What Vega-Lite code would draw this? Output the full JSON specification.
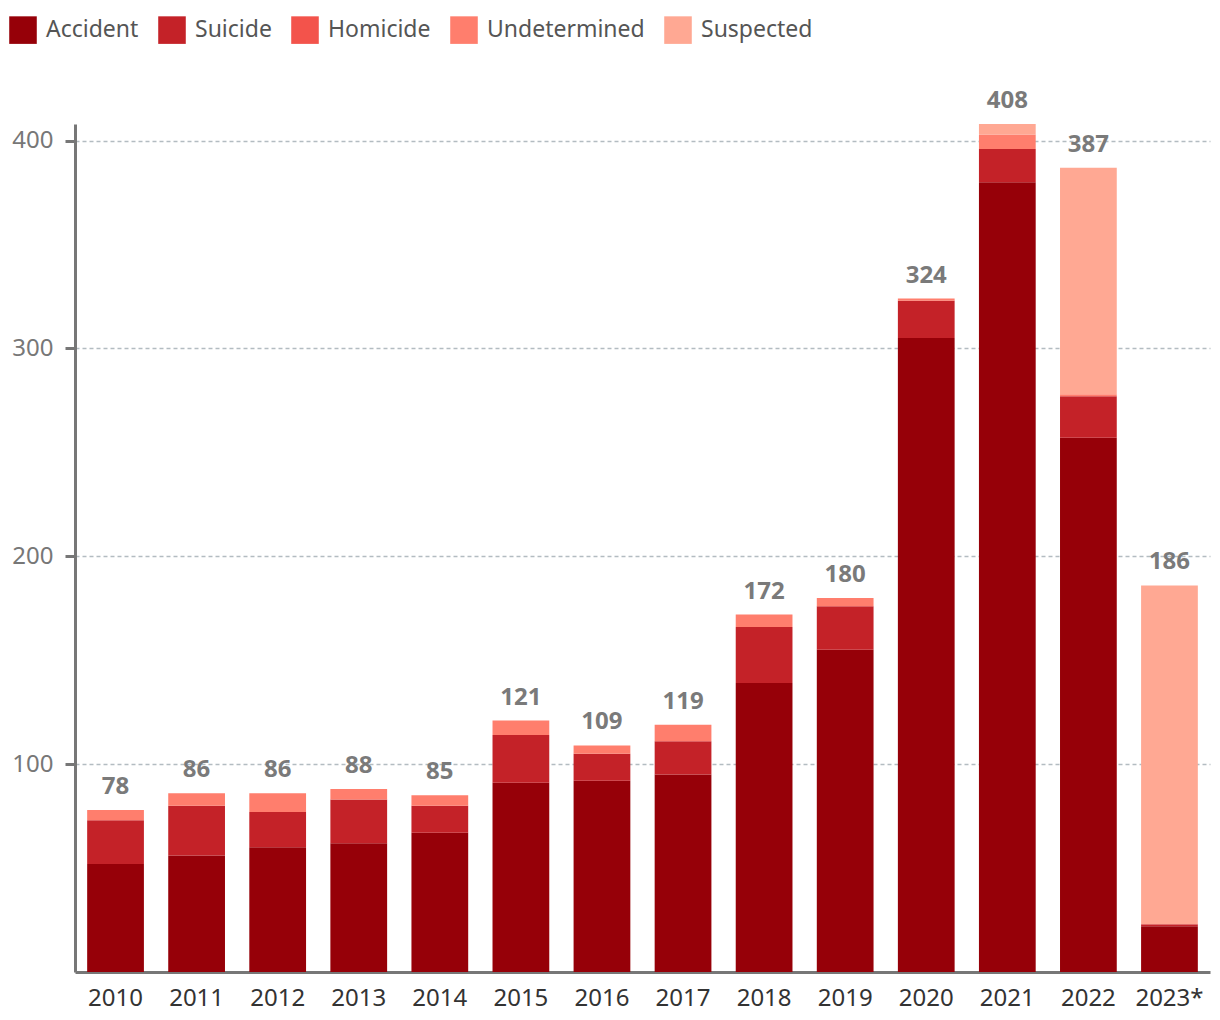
{
  "$schema": "https://vega.github.io/schema/vega-lite/v6.json",
  "autosize": "none",
  "width": 1135,
  "height": 848,
  "padding": {"left": 75, "top": 124, "right": 10, "bottom": 48},
  "background": "white",
  "config": {"view": {"stroke": null}, "font": "Noto Sans"},
  "data": {"values": [
    {"year": "2010", "type": "Accident", "value": 52},
    {"year": "2010", "type": "Suicide", "value": 21},
    {"year": "2010", "type": "Undetermined", "value": 5},
    {"year": "2011", "type": "Accident", "value": 56},
    {"year": "2011", "type": "Suicide", "value": 24},
    {"year": "2011", "type": "Undetermined", "value": 6},
    {"year": "2012", "type": "Accident", "value": 60},
    {"year": "2012", "type": "Suicide", "value": 17},
    {"year": "2012", "type": "Undetermined", "value": 9},
    {"year": "2013", "type": "Accident", "value": 62},
    {"year": "2013", "type": "Suicide", "value": 21},
    {"year": "2013", "type": "Undetermined", "value": 5},
    {"year": "2014", "type": "Accident", "value": 67},
    {"year": "2014", "type": "Suicide", "value": 13},
    {"year": "2014", "type": "Undetermined", "value": 5},
    {"year": "2015", "type": "Accident", "value": 91},
    {"year": "2015", "type": "Suicide", "value": 23},
    {"year": "2015", "type": "Undetermined", "value": 7},
    {"year": "2016", "type": "Accident", "value": 92},
    {"year": "2016", "type": "Suicide", "value": 13},
    {"year": "2016", "type": "Undetermined", "value": 4},
    {"year": "2017", "type": "Accident", "value": 95},
    {"year": "2017", "type": "Suicide", "value": 16},
    {"year": "2017", "type": "Undetermined", "value": 8},
    {"year": "2018", "type": "Accident", "value": 139},
    {"year": "2018", "type": "Suicide", "value": 27},
    {"year": "2018", "type": "Undetermined", "value": 6},
    {"year": "2019", "type": "Accident", "value": 155},
    {"year": "2019", "type": "Suicide", "value": 21},
    {"year": "2019", "type": "Undetermined", "value": 4},
    {"year": "2020", "type": "Accident", "value": 305},
    {"year": "2020", "type": "Suicide", "value": 18},
    {"year": "2020", "type": "Undetermined", "value": 1},
    {"year": "2021", "type": "Accident", "value": 380},
    {"year": "2021", "type": "Suicide", "value": 16},
    {"year": "2021", "type": "Undetermined", "value": 7},
    {"year": "2021", "type": "Suspected", "value": 5},
    {"year": "2022", "type": "Accident", "value": 257},
    {"year": "2022", "type": "Suicide", "value": 20},
    {"year": "2022", "type": "Undetermined", "value": 1},
    {"year": "2022", "type": "Suspected", "value": 109},
    {"year": "2023*", "type": "Accident", "value": 22},
    {"year": "2023*", "type": "Suicide", "value": 1},
    {"year": "2023*", "type": "Suspected", "value": 163}
  ]},
  "transform": [
    {"calculate": "indexof(['Accident','Suicide','Homicide','Undetermined','Suspected'], datum.type)", "as": "ord"}
  ],
  "encoding": {
    "x": {
      "field": "year", "type": "nominal", "sort": null,
      "scale": {"paddingInner": 0.3, "paddingOuter": 0.15},
      "axis": {
        "title": null, "labelAngle": 0, "ticks": false,
        "domainColor": "#777777", "domainWidth": 3,
        "labelColor": "#333333", "labelFontSize": 24, "labelPadding": 14,
        "labelFont": "Noto Sans"
      }
    }
  },
  "layer": [
    {
      "mark": {"type": "bar"},
      "encoding": {
        "y": {
          "field": "value", "type": "quantitative", "aggregate": "sum", "stack": "zero",
          "scale": {"domain": [0, 408], "nice": false},
          "axis": {
            "title": null, "values": [100, 200, 300, 400],
            "grid": true, "gridColor": "#b3bcc1", "gridDash": [4, 3], "gridWidth": 1.5,
            "domainColor": "#777777", "domainWidth": 3,
            "tickColor": "#777777", "tickWidth": 3, "tickSize": 10,
            "labelColor": "#777777", "labelFontSize": 24, "labelPadding": 12,
            "labelFont": "Noto Sans"
          }
        },
        "color": {
          "field": "type", "type": "nominal",
          "scale": {
            "domain": ["Accident", "Suicide", "Homicide", "Undetermined", "Suspected"],
            "range": ["#960008", "#c42228", "#f3534b", "#ff7e6d", "#ffa893"]
          },
          "legend": {
            "title": null, "orient": "none", "direction": "horizontal",
            "legendX": -66, "legendY": -108,
            "symbolType": "square", "symbolSize": 760, "symbolStrokeWidth": 0,
            "labelFontSize": 23, "labelColor": "#555555", "labelOffset": 9,
            "columnPadding": 19, "labelFont": "Noto Sans"
          }
        },
        "order": {"field": "ord", "type": "quantitative"}
      }
    },
    {
      "transform": [
        {"aggregate": [{"op": "sum", "field": "value", "as": "total"}], "groupby": ["year"]}
      ],
      "mark": {"type": "text", "baseline": "alphabetic", "dy": -16, "fontSize": 24, "fontWeight": "bold", "color": "#7a7a7a", "font": "Noto Sans"},
      "encoding": {
        "y": {"field": "total", "type": "quantitative"},
        "text": {"field": "total", "type": "quantitative"}
      }
    }
  ]
}
